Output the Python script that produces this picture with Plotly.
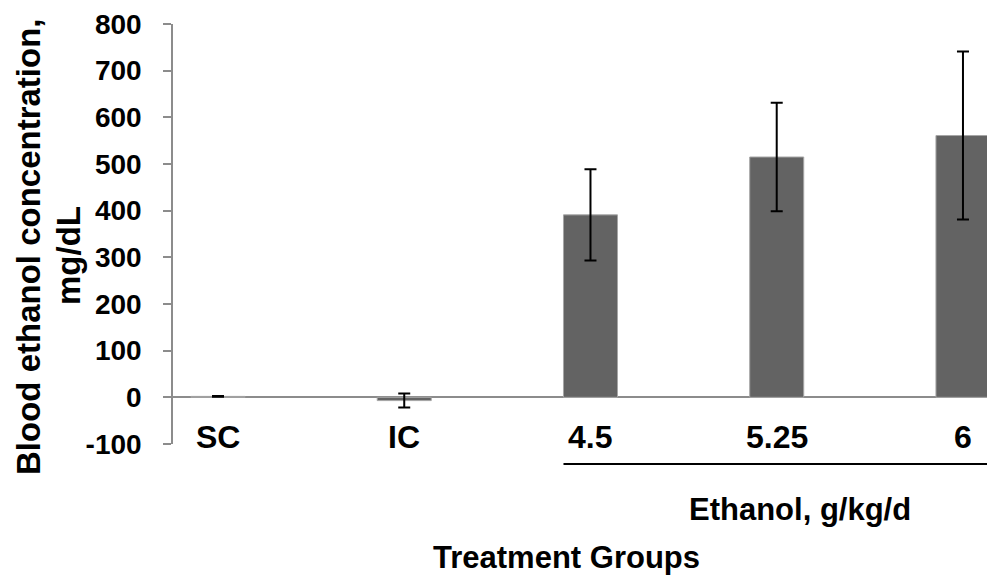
import plotly.graph_objects as go

categories = ["SC", "IC", "4.5", "5.25", "6"]
values = [2, -7, 391, 515, 561]
errors = [1, 15, 98, 116, 180]
y_ticks = [-100, 0, 100, 200, 300, 400, 500, 600, 700, 800]
y_ticklabels = ["-100", "0", "100", "200", "300", "400", "500", "600", "700", "800"]

FONT = "Liberation Sans, Arial, sans-serif"
xpos = list(range(len(categories)))

fig = go.Figure()
fig.add_trace(go.Bar(
    x=xpos, y=values, width=0.29,
    marker=dict(color="#636363", line=dict(color="#a6a6a6", width=1)),
    error_y=dict(type="data", array=errors, visible=True,
                 color="black", thickness=2, width=6),
    showlegend=False,
))

xr = [-0.2416, 4.172]


def px(X):
    return (X - 173) / 822


def py(Y):
    return (444 - Y) / 420


for i, c in enumerate(categories):
    fig.add_annotation(x=i, xref="x", y=py(437), yref="paper", text=c,
                       showarrow=False, xanchor="center", yanchor="middle",
                       font=dict(family=FONT, size=32, color="black", weight="bold"))

fig.add_shape(type="line", xref="x", yref="paper", x0=2 - 0.145, x1=xr[1],
              y0=py(464), y1=py(464), line=dict(color="black", width=2))

fig.add_annotation(x=px(800), xref="paper", y=py(510), yref="paper", text="Ethanol, g/kg/d",
                   showarrow=False, xanchor="center", yanchor="middle",
                   font=dict(family=FONT, size=31, color="black", weight="bold"))
fig.add_annotation(x=px(566), xref="paper", y=py(557), yref="paper",
                   text="Treatment Groups",
                   showarrow=False, xanchor="center", yanchor="middle",
                   font=dict(family=FONT, size=31, color="black", weight="bold"))
fig.add_annotation(x=px(28), xref="paper", y=py(247), yref="paper",
                   text="Blood ethanol concentration,", textangle=-90,
                   showarrow=False, xanchor="center", yanchor="middle",
                   font=dict(family=FONT, size=33, color="black", weight="bold"))
fig.add_annotation(x=px(68), xref="paper", y=py(255), yref="paper",
                   text="mg/dL", textangle=-90,
                   showarrow=False, xanchor="center", yanchor="middle",
                   font=dict(family=FONT, size=33, color="black", weight="bold"))

fig.update_layout(
    width=987, height=568,
    margin=dict(l=165, r=0, t=16, b=132),
    paper_bgcolor="white", plot_bgcolor="white",
    xaxis=dict(range=xr, showticklabels=False, showline=False, showgrid=False,
               zeroline=False, ticks=""),
    yaxis=dict(range=[-100, 800], tickvals=y_ticks, ticktext=y_ticklabels,
               showgrid=False,
               showline=True, linecolor="#8c8c8c", linewidth=1.5,
               ticks="outside", ticklen=8, tickcolor="#8c8c8c", tickwidth=1.5,
               zeroline=True, zerolinecolor="#8c8c8c", zerolinewidth=2,
               ticklabelstandoff=16,
               tickfont=dict(family=FONT, size=28, color="black", weight="bold")),
)

fig.write_html("out.html")
